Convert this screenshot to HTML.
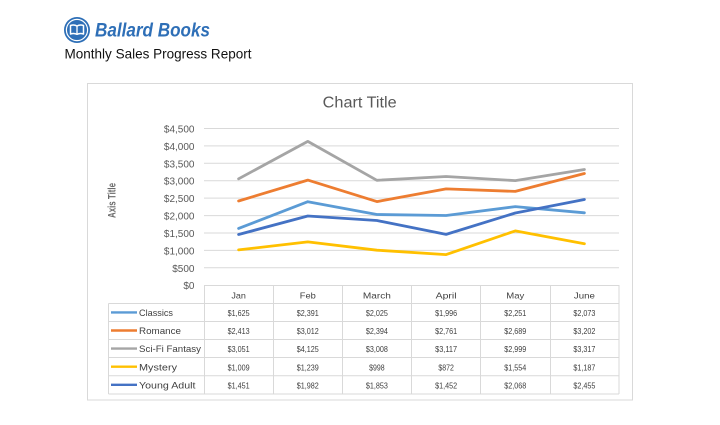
<!DOCTYPE html>
<html>
<head>
<meta charset="utf-8">
<style>
  html, body { margin:0; padding:0; background:#fff; }
  svg { display:block; }
  text { font-family: "Liberation Sans", sans-serif; }
</style>
</head>
<body>
<svg width="720" height="425" viewBox="0 0 720 425" xmlns="http://www.w3.org/2000/svg">
  <rect x="0" y="0" width="720" height="425" fill="#fff"/>

  <!-- Logo -->
  <circle cx="77" cy="30" r="13" fill="#2E6FB7"/>
  <circle cx="77" cy="30" r="10.6" fill="none" stroke="#fff" stroke-width="1.2"/>
  <path d="M70.5 25.5 Q74 24.3 77 26 Q80 24.3 83.5 25.5 L83.5 34 Q80 32.8 77 34.3 Q74 32.8 70.5 34 Z" fill="none" stroke="#fff" stroke-width="1.5" stroke-linejoin="round"/>
  <line x1="77" y1="26" x2="77" y2="34.3" stroke="#fff" stroke-width="1.3"/>
  <text x="95" y="36.7" font-family="Liberation Serif, serif" font-weight="bold" font-style="italic" font-size="19.5" fill="#2E6FB7" textLength="115" lengthAdjust="spacingAndGlyphs">Ballard Books</text>
  <text x="64.5" y="58.7" font-size="14" fill="#111" textLength="187" lengthAdjust="spacingAndGlyphs">Monthly Sales Progress Report</text>

  <!-- Chart border -->
  <rect x="87.5" y="83.5" width="545" height="316.5" fill="#fff" stroke="#D9D9D9" stroke-width="1"/>

  <!-- Title -->
  <text x="322.7" y="107.3" font-size="15.5" fill="#595959" textLength="74" lengthAdjust="spacingAndGlyphs">Chart Title</text>

  <!-- Axis title -->
  <text transform="translate(115.5,218) rotate(-90)" x="0" y="0" font-size="11" font-weight="bold" fill="#6b6b6b" textLength="35" lengthAdjust="spacingAndGlyphs">Axis Title</text>

  <!-- Gridlines -->
  <g stroke="#D9D9D9" stroke-width="1">
    <line x1="204" y1="128.5" x2="619" y2="128.5"/>
    <line x1="204" y1="145.9" x2="619" y2="145.9"/>
    <line x1="204" y1="163.3" x2="619" y2="163.3"/>
    <line x1="204" y1="180.7" x2="619" y2="180.7"/>
    <line x1="204" y1="198.1" x2="619" y2="198.1"/>
    <line x1="204" y1="215.6" x2="619" y2="215.6"/>
    <line x1="204" y1="233.0" x2="619" y2="233.0"/>
    <line x1="204" y1="250.4" x2="619" y2="250.4"/>
    <line x1="204" y1="267.8" x2="619" y2="267.8"/>
  </g>

  <!-- Y labels -->
  <g font-size="10" fill="#595959" text-anchor="end">
    <text x="194.5" y="132.5">$4,500</text>
    <text x="194.5" y="149.9">$4,000</text>
    <text x="194.5" y="167.3">$3,500</text>
    <text x="194.5" y="184.7">$3,000</text>
    <text x="194.5" y="202.1">$2,500</text>
    <text x="194.5" y="219.6">$2,000</text>
    <text x="194.5" y="237.0">$1,500</text>
    <text x="194.5" y="254.4">$1,000</text>
    <text x="194.5" y="271.8">$500</text>
    <text x="194.5" y="289.2">$0</text>
  </g>

  <!-- Series -->
  <g fill="none" stroke-width="2.8" stroke-linejoin="round" stroke-linecap="round">
    <polyline stroke="#A5A5A5" points="238.6,178.8 307.8,141.4 376.9,180.3 446.1,176.5 515.3,180.6 584.4,169.5"/>
    <polyline stroke="#ED7D31" points="238.6,201.0 307.8,180.1 376.9,201.6 446.1,188.9 515.3,191.4 584.4,173.5"/>
    <polyline stroke="#5B9BD5" points="238.6,228.4 307.8,201.7 376.9,214.5 446.1,215.5 515.3,206.6 584.4,212.8"/>
    <polyline stroke="#4472C4" points="238.6,234.5 307.8,216.0 376.9,220.5 446.1,234.4 515.3,213.0 584.4,199.5"/>
    <polyline stroke="#FFC000" points="238.6,249.9 307.8,241.9 376.9,250.2 446.1,254.6 515.3,230.9 584.4,243.7"/>
  </g>

  <!-- Data table grid -->
  <g stroke="#D9D9D9" stroke-width="1" fill="none">
    <line x1="204" y1="285.5" x2="619" y2="285.5"/>
    <line x1="108.5" y1="303.5" x2="619" y2="303.5"/>
    <line x1="108.5" y1="321.5" x2="619" y2="321.5"/>
    <line x1="108.5" y1="339.5" x2="619" y2="339.5"/>
    <line x1="108.5" y1="357.5" x2="619" y2="357.5"/>
    <line x1="108.5" y1="375.7" x2="619" y2="375.7"/>
    <line x1="108.5" y1="394" x2="619" y2="394"/>
    <line x1="108.5" y1="303.5" x2="108.5" y2="394"/>
    <line x1="204.5" y1="285" x2="204.5" y2="394"/>
    <line x1="273.5" y1="285" x2="273.5" y2="394"/>
    <line x1="342.5" y1="285" x2="342.5" y2="394"/>
    <line x1="411.5" y1="285" x2="411.5" y2="394"/>
    <line x1="480.5" y1="285" x2="480.5" y2="394"/>
    <line x1="550.5" y1="285" x2="550.5" y2="394"/>
    <line x1="619" y1="285" x2="619" y2="394"/>
  </g>

  <!-- Header -->
  <g font-size="8.5" fill="#404040" text-anchor="middle">
    <text x="238.6" y="298.7" textLength="14.5" lengthAdjust="spacingAndGlyphs">Jan</text>
    <text x="307.8" y="298.7" textLength="16" lengthAdjust="spacingAndGlyphs">Feb</text>
    <text x="376.9" y="298.7" textLength="28" lengthAdjust="spacingAndGlyphs">March</text>
    <text x="446.1" y="298.7" textLength="21" lengthAdjust="spacingAndGlyphs">April</text>
    <text x="515.3" y="298.7" textLength="18" lengthAdjust="spacingAndGlyphs">May</text>
    <text x="584.4" y="298.7" textLength="21" lengthAdjust="spacingAndGlyphs">June</text>
  </g>

  <!-- Legend keys -->
  <g stroke-width="2.4">
    <line x1="111" y1="312.4" x2="137" y2="312.4" stroke="#5B9BD5"/>
    <line x1="111" y1="330.5" x2="137" y2="330.5" stroke="#ED7D31"/>
    <line x1="111" y1="348.6" x2="137" y2="348.6" stroke="#A5A5A5"/>
    <line x1="111" y1="366.7" x2="137" y2="366.7" stroke="#FFC000"/>
    <line x1="111" y1="384.8" x2="137" y2="384.8" stroke="#4472C4"/>
  </g>
  <g font-size="9.5" fill="#404040">
    <text x="139" y="316" textLength="34" lengthAdjust="spacingAndGlyphs">Classics</text>
    <text x="139" y="334.1" textLength="42" lengthAdjust="spacingAndGlyphs">Romance</text>
    <text x="139" y="352.2" textLength="62" lengthAdjust="spacingAndGlyphs">Sci-Fi Fantasy</text>
    <text x="139" y="370.3" textLength="38" lengthAdjust="spacingAndGlyphs">Mystery</text>
    <text x="139" y="388.4" textLength="56.5" lengthAdjust="spacingAndGlyphs">Young Adult</text>
  </g>

  <!-- Values -->
  <g font-size="8.5" fill="#404040" text-anchor="middle">
    <g>
      <text x="238.6" y="316" textLength="22" lengthAdjust="spacingAndGlyphs">$1,625</text>
      <text x="307.8" y="316" textLength="22" lengthAdjust="spacingAndGlyphs">$2,391</text>
      <text x="376.9" y="316" textLength="22" lengthAdjust="spacingAndGlyphs">$2,025</text>
      <text x="446.1" y="316" textLength="22" lengthAdjust="spacingAndGlyphs">$1,996</text>
      <text x="515.3" y="316" textLength="22" lengthAdjust="spacingAndGlyphs">$2,251</text>
      <text x="584.4" y="316" textLength="22" lengthAdjust="spacingAndGlyphs">$2,073</text>
    </g>
    <g>
      <text x="238.6" y="334.1" textLength="22" lengthAdjust="spacingAndGlyphs">$2,413</text>
      <text x="307.8" y="334.1" textLength="22" lengthAdjust="spacingAndGlyphs">$3,012</text>
      <text x="376.9" y="334.1" textLength="22" lengthAdjust="spacingAndGlyphs">$2,394</text>
      <text x="446.1" y="334.1" textLength="22" lengthAdjust="spacingAndGlyphs">$2,761</text>
      <text x="515.3" y="334.1" textLength="22" lengthAdjust="spacingAndGlyphs">$2,689</text>
      <text x="584.4" y="334.1" textLength="22" lengthAdjust="spacingAndGlyphs">$3,202</text>
    </g>
    <g>
      <text x="238.6" y="352.2" textLength="22" lengthAdjust="spacingAndGlyphs">$3,051</text>
      <text x="307.8" y="352.2" textLength="22" lengthAdjust="spacingAndGlyphs">$4,125</text>
      <text x="376.9" y="352.2" textLength="22" lengthAdjust="spacingAndGlyphs">$3,008</text>
      <text x="446.1" y="352.2" textLength="22" lengthAdjust="spacingAndGlyphs">$3,117</text>
      <text x="515.3" y="352.2" textLength="22" lengthAdjust="spacingAndGlyphs">$2,999</text>
      <text x="584.4" y="352.2" textLength="22" lengthAdjust="spacingAndGlyphs">$3,317</text>
    </g>
    <g>
      <text x="238.6" y="370.3" textLength="22" lengthAdjust="spacingAndGlyphs">$1,009</text>
      <text x="307.8" y="370.3" textLength="22" lengthAdjust="spacingAndGlyphs">$1,239</text>
      <text x="376.9" y="370.3" textLength="15.5" lengthAdjust="spacingAndGlyphs">$998</text>
      <text x="446.1" y="370.3" textLength="15.5" lengthAdjust="spacingAndGlyphs">$872</text>
      <text x="515.3" y="370.3" textLength="22" lengthAdjust="spacingAndGlyphs">$1,554</text>
      <text x="584.4" y="370.3" textLength="22" lengthAdjust="spacingAndGlyphs">$1,187</text>
    </g>
    <g>
      <text x="238.6" y="388.4" textLength="22" lengthAdjust="spacingAndGlyphs">$1,451</text>
      <text x="307.8" y="388.4" textLength="22" lengthAdjust="spacingAndGlyphs">$1,982</text>
      <text x="376.9" y="388.4" textLength="22" lengthAdjust="spacingAndGlyphs">$1,853</text>
      <text x="446.1" y="388.4" textLength="22" lengthAdjust="spacingAndGlyphs">$1,452</text>
      <text x="515.3" y="388.4" textLength="22" lengthAdjust="spacingAndGlyphs">$2,068</text>
      <text x="584.4" y="388.4" textLength="22" lengthAdjust="spacingAndGlyphs">$2,455</text>
    </g>
  </g>
</svg>
</body>
</html>
